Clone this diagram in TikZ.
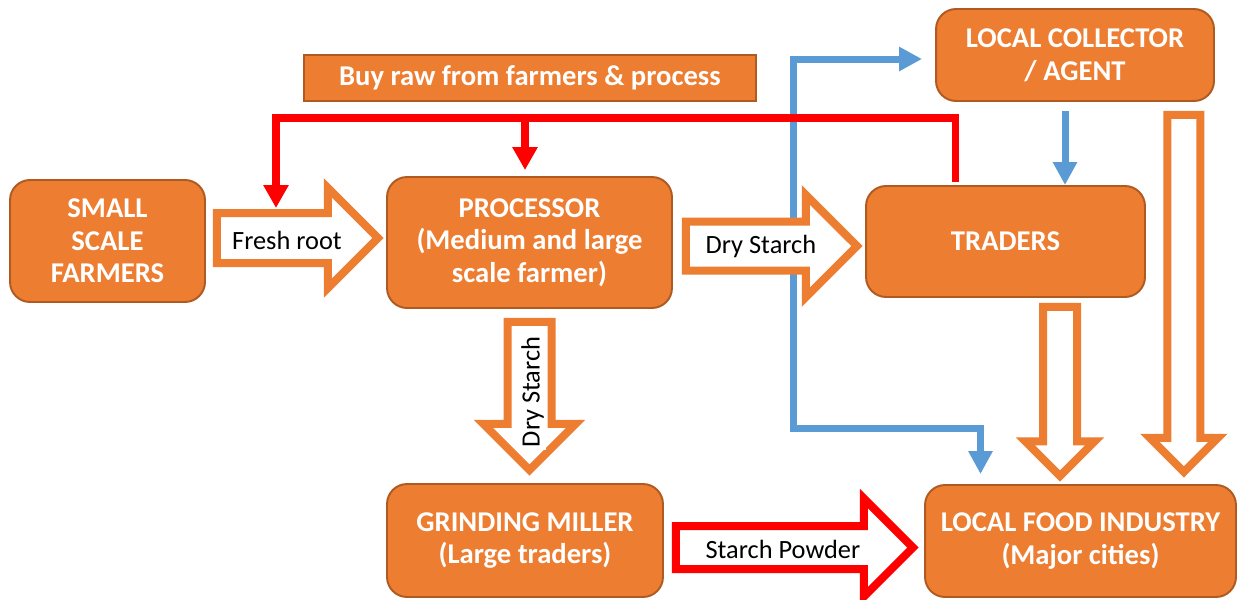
\documentclass[tikz,border=0pt]{standalone}
\usepackage{fontspec}
\setmainfont{Carlito}
\usetikzlibrary{arrows.meta,shapes.arrows,calc}

\definecolor{boxorange}{HTML}{ED7D31}
\definecolor{boxedge}{HTML}{AE5A21}
\definecolor{linkblue}{HTML}{5B9BD5}
\definecolor{linkred}{HTML}{FF0000}

\begin{document}
\begin{tikzpicture}[
        x=0.02cm, y=-0.02cm,
        actor/.style={
            draw=boxedge,
            line width=1.1pt,
            fill=boxorange,
            rounded corners=0.4cm,
            align=center,
            text=white,
            inner sep=0pt,
            font=\fontsize{16.3}{18.6}\selectfont\bfseries
        },
        fatarrow/.style={
            single arrow,
            draw=boxorange,
            fill=white,
            line width=0.16cm,
            inner xsep=0pt,
            outer sep=0pt,
            anchor=tail
        },
        flowlabel/.style={
            fill=white,
            inner sep=1.5pt,
            text=black,
            font=\fontsize{15}{18}\selectfont
        },
        bluelink/.style={draw=linkblue, line width=0.14cm, miter limit=10, -{Triangle[length=0.46cm,width=0.46cm]}},
        redlink/.style={draw=linkred, line width=0.15cm, miter limit=10, -{Triangle[length=0.46cm,width=0.48cm]}}
    ]
        \useasboundingbox (0,0) rectangle (1238,599);

        \node[actor, minimum width=3.9cm, minimum height=2.44cm] (farmers) at (107.5,241) {SMALL\\SCALE\\FARMERS};
        \node[actor, minimum width=5.7cm, minimum height=2.62cm] (processor) at (529.5,242.5) {PROCESSOR\\(Medium and large\\scale farmer)};
        \node[actor, rounded corners=0pt, minimum width=9.04cm, minimum height=0.92cm] (buyraw) at (530,78) {Buy raw from farmers \& process};
        \node[actor, minimum width=5.56cm, minimum height=1.84cm] (collector) at (1075,55) {LOCAL COLLECTOR\\/ AGENT};
        \node[actor, minimum width=5.58cm, minimum height=2.22cm] (traders) at (1005.5,241.5) {TRADERS};
        \node[actor, minimum width=5.52cm, minimum height=2.26cm] (miller) at (525,540.5) {GRINDING MILLER\\(Large traders)};
        \node[actor, minimum width=6.22cm, minimum height=2.24cm] (food) at (1080.5,541) {LOCAL FOOD INDUSTRY\\(Major cities)};

        \coordinate (redbar) at (0,118);
        \coordinate (rootdrop) at (276,208);
        \coordinate (bluebend) at (793,428);

        \draw[bluelink, {Triangle[length=0.46cm,width=0.46cm]}-{Triangle[length=0.46cm,width=0.46cm]}, line join=miter]
            ($(collector.west)+(-13,4)$) -| (bluebend) -| ($(food.north)+(-100,-10)$);
        \draw[bluelink] ($(collector.south)+(-10,9)$) coordinate (agentdrop) -- (agentdrop |- traders.north);

        \node[fatarrow, inner ysep=0.42cm, single arrow head extend=0.5cm, minimum height=3.22cm]
            (freshroot) at ($(farmers.east)+(11,-3)$) {};
        \node[fatarrow, inner ysep=0.41cm, single arrow head extend=0.53cm, minimum height=3.42cm]
            (drytrade) at ($(processor.east)+(13,3.5)$) {};
        \node[fatarrow, rotate=-90, inner ysep=0.36cm, single arrow head extend=0.48cm, minimum height=2.96cm]
            (drymill) at ($(processor.south)+(0,13)$) {};
        \node[fatarrow, draw=linkred, inner ysep=0.35cm, single arrow head extend=0.55cm, minimum height=4.74cm]
            (powder) at ($(miller.east)+(12,7)$) {};
        \node[fatarrow, rotate=-90, inner ysep=0.26cm, single arrow head extend=0.35cm, minimum height=3.38cm]
            (tradefood) at ($(traders.south)+(54.5,9)$) {};
        \node[fatarrow, rotate=-90, inner ysep=0.25cm, single arrow head extend=0.35cm, minimum height=7.14cm]
            (collectfood) at ($(collector.south east)+(-31,13)$) {};

        \node[flowlabel] (lblfresh) at ($(freshroot.tail)+(70,2)$) {Fresh root};
        \node[flowlabel] (lbldry) at ($(drytrade.tail)+(75,0)$) {Dry Starch};
        \node[flowlabel, rotate=90] (lbldrymill) at ($(drymill.tail)+(3,70)$) {Dry Starch};
        \node[flowlabel] (lblpowder) at ($(powder.tail)+(107,2)$) {Starch Powder};

        \draw[redlink, line join=miter] ($(traders.north)+(-50,-3)$) |- (rootdrop |- redbar) -- (rootdrop);
        \draw[redlink] ($(processor.north)+(-4.5,-6)$) coordinate (procdrop) (procdrop |- redbar) -- (procdrop);
    \end{tikzpicture}
\end{document}
